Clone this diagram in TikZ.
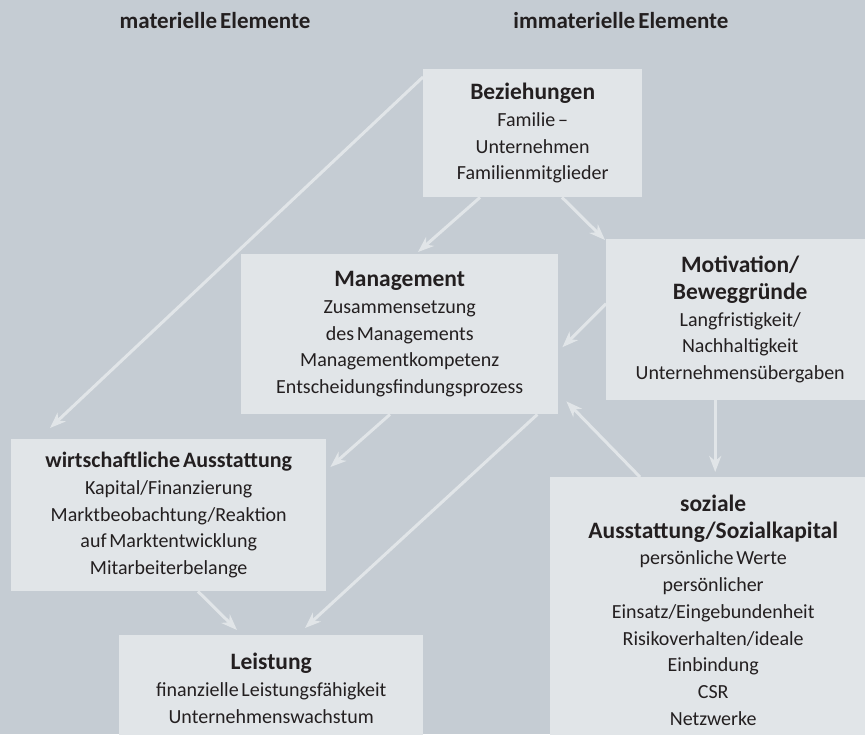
\documentclass[tikz,border=0pt]{standalone}
\usepackage{fontspec}
\setmainfont[WordSpace={0.6,0.3,0.3}]{Carlito}
\usetikzlibrary{arrows.meta}

\definecolor{grund}{RGB}{197,204,211}
\definecolor{feld}{RGB}{225,229,232}
\definecolor{schrift}{RGB}{35,31,32}

\newcommand{\kopf}[1]{{\fontsize{23.5}{26.7}\selectfont\bfseries #1}}

\tikzset{
  feldbox/.style={fill=feld, inner sep=0pt, anchor=north west, align=center,
    text=schrift, font=\fontsize{20}{26.7}\selectfont},
  pfeil/.style={draw=feld, line width=3pt,
    -{Stealth[length=16pt, width=12pt, inset=5pt]}},
  spalte/.style={text=schrift, font=\fontsize{23}{26}\selectfont\bfseries}
}

\begin{document}
\begin{tikzpicture}[x=1pt, y=-1pt]
  \clip (0,0) rectangle (865,734);
  \fill[grund] (0,0) rectangle (865,734);

  % Spaltenueberschriften
  \node[spalte] (mat) at (215,21) {materielle Elemente};
  \node[spalte] (immat) at (621,21) {immaterielle Elemente};

  % Felder
  \node[feldbox, minimum width=219pt, minimum height=128pt] (bez) at (423,69)
    {\kopf{Beziehungen}\\ Familie --\\ Unternehmen\\ Familienmitglieder};
  \node[feldbox, minimum width=317pt, minimum height=160pt] (mgmt) at (241,254)
    {\kopf{Management}\\ Zusammensetzung\\ des Managements\\ Managementkompetenz\\ Entscheidungsfindungsprozess};
  \node[feldbox, minimum width=268pt, minimum height=161pt] (motiv) at (606,239)
    {\kopf{Motivation/}\\ \kopf{Beweggründe}\\ Langfristigkeit/\\ Nachhaltigkeit\\ Unternehmensübergaben};
  \node[feldbox, minimum width=326pt, minimum height=266pt] (soz) at (550,477)
    {\kopf{soziale}\\ \kopf{Ausstattung/Sozialkapital}\\ persönliche Werte\\ persönlicher\\ Einsatz/Eingebundenheit\\ Risikoverhalten/ideale\\ Einbindung\\ CSR\\ Netzwerke};
  \node[feldbox, minimum width=315pt, minimum height=152pt] (wirt) at (11,439)
    {{\fontsize{22}{26.7}\selectfont\bfseries wirtschaftliche Ausstattung}\\ Kapital/Finanzierung\\ Marktbeobachtung/Reaktion\\ auf Marktentwicklung\\ Mitarbeiterbelange};
  \node[feldbox, minimum width=304pt, minimum height=106pt] (leist) at (119,635)
    {\kopf{Leistung}\\ finanzielle Leistungsfähigkeit\\ Unternehmenswachstum};

  % Pfeile
  \draw[pfeil] ([yshift=-8pt]bez.north west) -- ([xshift=39pt, yshift=11pt]wirt.north west);
  \draw[pfeil] ([xshift=57pt]bez.south west) -- ([xshift=177pt, yshift=2pt]mgmt.north west);
  \draw[pfeil] ([xshift=139pt]bez.south west) -- ([xshift=-1pt, yshift=-1pt]motiv.north west);
  \draw[pfeil] ([yshift=16pt]motiv.west) -- ([xshift=4pt, yshift=-13pt]mgmt.east);
  \draw[pfeil] ([xshift=-25pt]motiv.south) -- ([xshift=2pt, yshift=5pt]soz.north);
  \draw[pfeil] ([xshift=90pt]soz.north west) -- ([xshift=8pt, yshift=13pt]mgmt.south east);
  \draw[pfeil] ([xshift=149pt]mgmt.south west) -- ([xshift=4pt, yshift=-28pt]wirt.north east);
  \draw[pfeil] ([xshift=-21pt]mgmt.south east) -- ([xshift=186pt, yshift=7pt]leist.north west);
  \draw[pfeil] ([xshift=187pt]wirt.south west) -- ([xshift=118pt, yshift=5pt]leist.north west);
\end{tikzpicture}
\end{document}
